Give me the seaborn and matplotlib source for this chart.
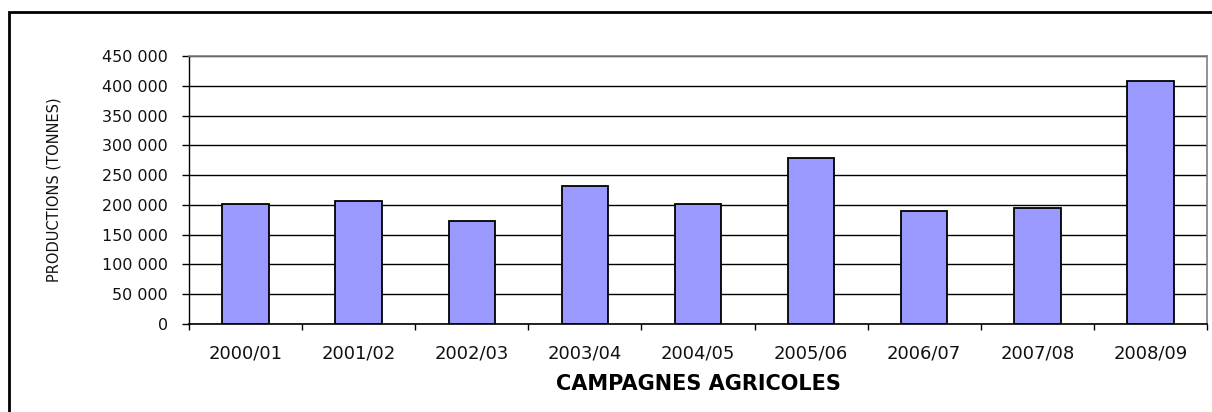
import matplotlib.pyplot as plt
import pandas as pd
import seaborn as sns
from matplotlib.patches import Rectangle
from matplotlib.ticker import FuncFormatter

campagnes = ["2000/01", "2001/02", "2002/03", "2003/04", "2004/05",
             "2005/06", "2006/07", "2007/08", "2008/09"]
productions = [201700, 206800, 172600, 231500, 201700,
               278500, 189400, 194000, 408500]

df = pd.DataFrame({"campagne": campagnes, "production": productions})

sns.set_style("white")
plt.rcParams["font.family"] = ["DejaVu Sans"]

fig = plt.figure(figsize=(12.12, 4.12), dpi=100)
ax = fig.add_axes([189 / 1212, 0.2136, (1207 - 189) / 1212, 0.864 - 0.2136])

# gridlines under bars
ax.set_axisbelow(True)
ax.yaxis.grid(True, color="black", linewidth=1)
ax.xaxis.grid(False)

sns.barplot(x="campagne", y="production", data=df, ax=ax, color="#9999FF",
            saturation=1, width=0.41, edgecolor="black", linewidth=1.3)

ax.set_ylim(0, 450000)
ax.set_xlim(-0.5, len(campagnes) - 0.5)
ax.set_yticks(range(0, 450001, 50000))
ax.yaxis.set_major_formatter(FuncFormatter(lambda v, p: f"{int(v):,}".replace(",", " ")))
ax.tick_params(axis="y", labelsize=11.5, length=5, width=1, color="black",
               left=True, pad=10, labelcolor="#111111")

# category boundary ticks like Excel
ax.set_xticks([i - 0.5 for i in range(len(campagnes) + 1)], minor=True)
ax.tick_params(axis="x", which="major", length=0, labelsize=13, pad=15, labelcolor="#111111")
ax.tick_params(axis="x", which="minor", length=4, width=1, color="black", bottom=True)

for side in ["top", "right"]:
    ax.spines[side].set_color("#808080")
    ax.spines[side].set_linewidth(1.2)
ax.spines["left"].set_color("black")
ax.spines["bottom"].set_color("black")
ax.spines["left"].set_linewidth(1)
ax.spines["bottom"].set_linewidth(1.2)

ax.set_ylabel("PRODUCTIONS (TONNES)", fontsize=10.5, labelpad=29, color="#111111")
ax.set_xlabel("CAMPAGNES AGRICOLES", fontsize=15, fontweight="bold",
              labelpad=8, color="black")

# outer chart border
fig.patches.append(Rectangle((9 / 1212, -0.1), 1.2, (412 - 12) / 412 + 0.1,
                             transform=fig.transFigure, fill=False,
                             edgecolor="black", linewidth=2))

fig.savefig("out.png", dpi=100)
